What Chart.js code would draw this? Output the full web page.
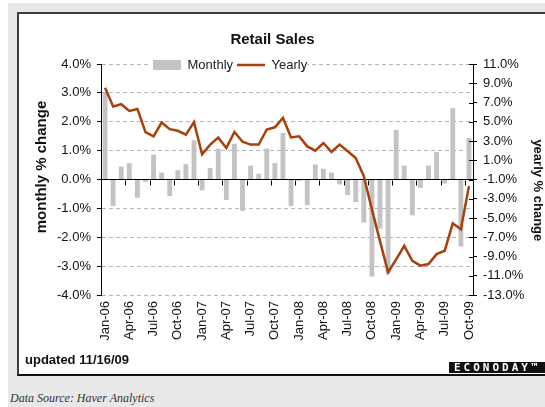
<!DOCTYPE html>
<html>
<head>
<meta charset="utf-8">
<script src="https://cdn.jsdelivr.net/npm/chart.js@4/dist/chart.umd.min.js"></script>
<style>
  html, body { margin: 0; padding: 0; background: #fff; }
  body { width: 545px; height: 407px; position: relative; overflow: hidden; font-family: "Liberation Sans", Arial, sans-serif; }
  #frame { position: absolute; left: 8px; top: 3px; width: 537px; height: 404px; background: #e8e8e8; }
  #panel { position: absolute; left: 17px; top: 12px; width: 540px; height: 360px; background: #fff;
           border-left: 2px solid #3c3c3c; border-top: 2px solid #3c3c3c; border-bottom: 2px solid #111; }
  #chart { position: absolute; left: 0; top: 0; }
  #updated { position: absolute; left: 25px; top: 352px; font-weight: bold; font-size: 13px; color: #111; }
  #logo { position: absolute; left: 449px; top: 362px; width: 100px; height: 11px; background: #111; color: #fff;
          font: bold 11px/11px "DejaVu Sans Mono", monospace; letter-spacing: 3px; padding-left: 5px; overflow: hidden; white-space: nowrap; }
  #source { position: absolute; left: 10px; top: 391px; font: italic 12px "Liberation Serif", serif; color: #333; }
</style>
</head>
<body>
<div id="frame"></div>
<div id="panel"></div>
<canvas id="chart" width="545" height="376"></canvas>
<div id="updated">updated 11/16/09</div>
<div id="logo">ECONODAY™</div>
<div id="source">Data Source: Haver Analytics</div>
<script>
const months = [
  'Jan-06', 'Feb-06', 'Mar-06', 'Apr-06', 'May-06', 'Jun-06', 'Jul-06', 'Aug-06', 'Sep-06', 'Oct-06', 'Nov-06', 'Dec-06',
  'Jan-07', 'Feb-07', 'Mar-07', 'Apr-07', 'May-07', 'Jun-07', 'Jul-07', 'Aug-07', 'Sep-07', 'Oct-07', 'Nov-07', 'Dec-07',
  'Jan-08', 'Feb-08', 'Mar-08', 'Apr-08', 'May-08', 'Jun-08', 'Jul-08', 'Aug-08', 'Sep-08', 'Oct-08', 'Nov-08', 'Dec-08',
  'Jan-09', 'Feb-09', 'Mar-09', 'Apr-09', 'May-09', 'Jun-09', 'Jul-09', 'Aug-09', 'Sep-09', 'Oct-09'
];

// monthly % change (left axis)
const monthlyChange = [
  3.0, -0.92, 0.45, 0.57, -0.63, -0.08, 0.86, 0.24, -0.57, 0.32, 0.53, 1.36,
  -0.38, 0.40, 1.07, -0.71, 1.24, -1.09, 0.48, 0.20, 1.07, 0.57, 1.61, -0.92,
  -0.05, -0.89, 0.52, 0.37, 0.24, -0.17, -0.54, -0.78, -1.49, -3.36, -1.70, -3.26,
  1.72, 0.48, -1.24, -0.29, 0.48, 0.95, -0.14, 2.47, -2.32, 1.44
];

// yearly % change (right axis)
const yearlyChange = [
  8.54, 6.58, 6.82, 6.13, 6.33, 3.92, 3.48, 4.92, 4.23, 4.06, 3.65, 4.96,
  1.62, 2.62, 3.35, 2.28, 3.94, 2.92, 2.63, 2.63, 4.2, 4.42, 5.4, 3.37,
  3.48, 2.44, 2.0, 2.79, 1.86, 2.62, 1.93, 1.24, -0.66, -4.1, -7.4, -10.64,
  -9.3, -7.89, -9.44, -9.95, -9.78, -8.75, -8.4, -5.55, -6.17, -1.69
];

const fontFamily = '"Liberation Sans", Arial, sans-serif';
Chart.defaults.font.family = fontFamily;
Chart.defaults.color = '#111';

const pct = v => Number(v).toFixed(1) + '%';

// small marks on the zero line every quarter, and inner half of the right axis ticks
const axisMarks = {
  id: 'axisMarks',
  afterDatasetsDraw(chart) {
    const { x, y, y1 } = chart.scales;
    const c = chart.ctx;
    const y0 = Math.round(y.getPixelForValue(0)) + 0.5;
    c.save();
    c.strokeStyle = '#000';
    c.lineWidth = 1;
    c.beginPath();
    for (let i = 3; i < months.length; i += 3) {
      const px = Math.round((x.getPixelForValue(i - 1) + x.getPixelForValue(i)) / 2) + 0.5;
      c.moveTo(px, y0);
      c.lineTo(px, y0 + 5);
    }
    y1.ticks.forEach(t => {
      const py = Math.round(y1.getPixelForValue(t.value)) + 0.5;
      c.moveTo(chart.chartArea.right, py);
      c.lineTo(chart.chartArea.right - 4, py);
    });
    c.stroke();
    c.restore();
  }
};

// move the legend down into the top of the plot, on a white patch over the top gridline
const legendInside = {
  id: 'legendInside',
  afterLayout(chart) {
    const lg = chart.legend;
    const dx = chart.chartArea.left + 48 - lg.left;
    const dy = chart.chartArea.top - 9.5 - lg.top;
    lg.left += dx; lg.right += dx;
    lg.top += dy; lg.bottom += dy;
  },
  beforeDatasetsDraw(chart) {
    const lg = chart.legend;
    const c = chart.ctx;
    c.save();
    c.fillStyle = '#fff';
    c.fillRect(lg.left + 2, chart.chartArea.top - 3, lg.lineWidths[0] - 2, 8);
    c.restore();
    lg.draw();
  }
};

new Chart(document.getElementById('chart'), {
  data: {
    labels: months,
    datasets: [
      {
        type: 'bar',
        label: 'Monthly',
        data: monthlyChange,
        yAxisID: 'y',
        backgroundColor: '#c3c3c3',
        borderWidth: 0,
        barPercentage: 0.6,
        categoryPercentage: 1,
        order: 2
      },
      {
        type: 'line',
        label: 'Yearly',
        data: yearlyChange,
        yAxisID: 'y1',
        borderColor: '#a8400c',
        backgroundColor: '#a8400c',
        borderWidth: 2.5,
        pointRadius: 0,
        tension: 0,
        order: 1
      }
    ]
  },
  options: {
    responsive: false,
    animation: false,
    layout: { padding: 0 },
    plugins: {
      title: {
        display: true,
        text: 'Retail Sales',
        color: '#111',
        font: { size: 15, weight: 'bold' },
        padding: { top: 31, bottom: -12 }
      },
      legend: {
        display: true,
        position: 'top',
        align: 'start',
        labels: {
          color: '#222',
          font: { size: 13 },
          padding: 4,
          boxHeight: 10,
          usePointStyle: true,
          pointStyleWidth: 28,
          generateLabels(chart) {
            const items = Chart.defaults.plugins.legend.labels.generateLabels(chart);
            items.sort((a, b) => a.datasetIndex - b.datasetIndex);
            items.forEach(it => {
              it.pointStyle = it.datasetIndex === 0 ? 'rect' : 'line';
            });
            return items;
          }
        }
      },
      tooltip: { enabled: false }
    },
    scales: {
      x: {
        offset: true,
        grid: { display: false, drawTicks: false },
        border: { display: false },
        ticks: {
          autoSkip: false,
          minRotation: 90,
          maxRotation: 90,
          padding: 6,
          color: '#111',
          font: { size: 13 },
          callback: function (value, index) {
            return index % 3 === 0 ? this.getLabelForValue(value) : '';
          }
        },
        afterFit(scale) { scale.height = 81; }
      },
      y: {
        position: 'left',
        min: -4,
        max: 4,
        ticks: { stepSize: 1, padding: 6, color: '#111', font: { size: 13 }, callback: pct },
        grid: {
          color: ctx => ctx.tick && ctx.tick.value === 0 ? '#000' : '#b4b4b4',
          lineWidth: 1,
          tickLength: 4,
          tickColor: '#000',
          tickBorderDash: []
        },
        border: {
          display: true,
          color: '#000',
          width: 1,
          dash: ctx => ctx.tick && ctx.tick.value === 0 ? [] : [4, 3]
        },
        title: {
          display: true,
          // leading spaces lift the visible words above the axis middle, as in the original
          text: '      monthly % change',
          color: '#111',
          font: { size: 15, weight: 'bold' },
          padding: { top: 33, bottom: 0 }
        },
        afterFit(scale) { scale.width = 101; }
      },
      y1: {
        position: 'right',
        min: -13,
        max: 11,
        ticks: { stepSize: 2, padding: 6, color: '#111', font: { size: 13 }, callback: pct },
        grid: { drawOnChartArea: false, tickLength: 4, tickColor: '#000' },
        border: { display: true, color: '#000', width: 1 },
        title: {
          display: true,
          text: '      yearly % change',
          color: '#111',
          font: { size: 13, weight: 'bold' },
          padding: { top: 0, bottom: 0 }
        },
        afterFit(scale) { scale.width = 72; }
      }
    }
  },
  plugins: [axisMarks, legendInside]
});
</script>
</body>
</html>
